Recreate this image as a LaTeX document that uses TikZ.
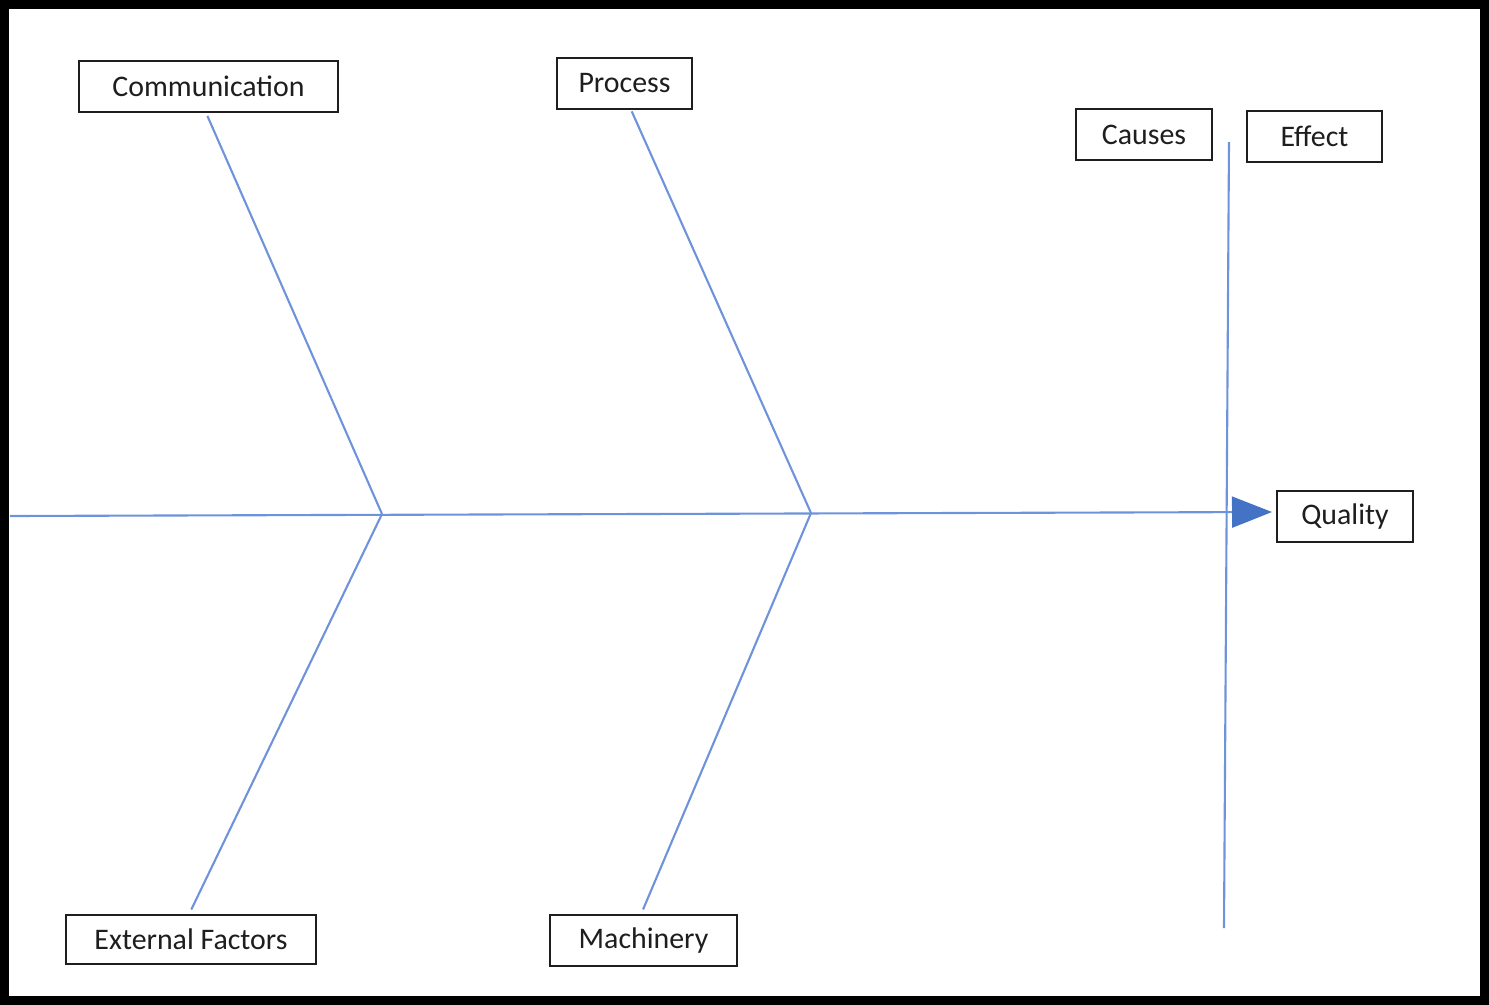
\documentclass[tikz,border=0pt]{standalone}
\usepackage{fontspec}
\setmainfont{Carlito}
\usetikzlibrary{positioning,arrows.meta}
\definecolor{BoneBlue}{HTML}{6F93DA}
\definecolor{HeadBlue}{HTML}{4472C4}
\definecolor{BoxInk}{HTML}{1E1E1E}
\begin{document}
\begin{tikzpicture}[x=0.02cm,y=-0.02cm,
  labelbox/.style={draw=BoxInk,line width=0.8pt,fill=white,text=BoxInk,
    minimum height=1.02cm,inner sep=0pt,font=\fontsize{17}{20}\selectfont},
  bone/.style={draw=BoneBlue,line width=1.2pt}]
  \useasboundingbox (0,0) rectangle (1489,1005);
  \draw[line width=0.18cm] (4.5,4.5) rectangle (1484.5,1000.5);
  % cause and effect headings
  \node[labelbox,minimum width=2.72cm] (causes) at (1144,134.5) {Causes};
  \node[labelbox,minimum width=2.7cm] (effect) at (1314.5,136.5) {Effect};
  \node[labelbox,minimum width=2.72cm] (quality) at (1345,516.5) {Quality};
  % categories
  \node[labelbox,minimum width=5.18cm] (comm) at (208.5,86.5) {Communication};
  \node[labelbox,minimum width=2.7cm] (proc) at (624.5,83.5) {Process};
  \node[labelbox,minimum width=5cm,minimum height=0.98cm] (ext) at (191,939.5) {External Factors};
  \node[labelbox,minimum width=3.74cm] (mach) at (643.5,940.5) {Machinery};
  % spine and joints
  \coordinate (tail) at (10,516);
  \coordinate (head) at (1272,512);
  \coordinate (j1) at (382,514);
  \coordinate (j2) at (811,513);
  \coordinate (ctop) at (1229,142);
  \coordinate (cbot) at (1224,928);
  \draw[bone] (ctop) -- (cbot);
  \draw[bone,-{Triangle[length=0.8cm,width=0.62cm,color=HeadBlue]}] (tail) -- (head);
  \draw[bone,shorten <=2pt] ([xshift=-0.05cm]comm.south) -- (j1);
  \draw[bone,shorten >=3pt] (j1) -- ([xshift=-0.04cm]ext.north);
  \draw[bone,shorten <=1pt] ([xshift=0.13cm]proc.south) -- (j2);
  \draw[bone,shorten >=3pt] (j2) -- ([xshift=-0.05cm]mach.north);
\end{tikzpicture}
\end{document}
